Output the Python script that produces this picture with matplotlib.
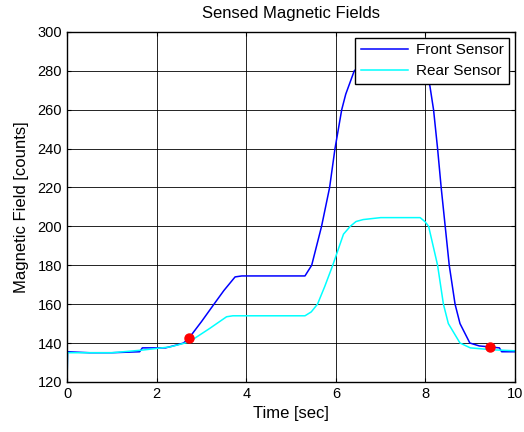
import matplotlib
matplotlib.use('Agg')
from matplotlib import pyplot as plt

plt.rcParams['font.family'] = ['Liberation Sans', 'DejaVu Sans']

# front sensor trace (time in sec, field in counts)
front_t = [0, 0.01, 0.5, 1.0, 1.62, 1.68, 2.2, 2.45, 2.6, 2.72, 3.0, 3.28, 3.5, 3.75,
           3.9, 5.31, 5.46, 5.68, 5.86, 5.98, 6.13, 6.22, 6.41, 6.6, 6.8, 7.0, 7.8, 8.0,
           8.1, 8.18, 8.27, 8.35, 8.44, 8.53, 8.66, 8.77, 8.99, 9.2, 9.65, 9.7, 10]
front_v = [120, 135.5, 135, 135, 135.5, 137.5, 137.5, 139, 140, 142.5, 151, 160, 167, 174,
           174.5, 174.5, 180, 200, 220, 240, 260, 268, 280, 284, 286, 287, 287, 283,
           272, 260, 240, 220, 200, 180, 160, 150, 140, 138.5, 137.5, 135.5, 135.5]

# rear sensor trace
rear_t = [0, 0.01, 1.0, 1.7, 2.3, 2.72, 2.82, 3.19, 3.56, 3.7, 5.31, 5.45, 5.59, 5.75,
          5.93, 6.05, 6.17, 6.32, 6.45, 6.61, 7.0, 7.88, 7.99, 8.07, 8.27, 8.4, 8.51,
          8.77, 9.0, 9.5, 10]
rear_v = [120, 135, 135, 136.4, 138, 140.5, 142, 147.6, 153.5, 154, 154, 156, 160, 169,
          180, 188, 196, 200, 202.5, 203.5, 204.5, 204.5, 202.4, 200, 180, 160, 150,
          140, 137.5, 136.5, 136]

# detection markers
mark_t = [2.72, 9.44]
mark_v = [142.5, 138]

fig = plt.figure(figsize=(5.24, 4.32), dpi=100)
ax = fig.add_axes([0.128, 0.116, 0.855, 0.810])

ax.plot(front_t, front_v, color='#0000ff', lw=1.1, label='Front Sensor')
ax.plot(rear_t, rear_v, color='#00ffff', lw=1.1, label='Rear Sensor')
ax.plot(mark_t, mark_v, 'o', color='#ff0000', ms=6.5, zorder=5)

ax.set_xlim(0, 10)
ax.set_ylim(120, 300)
ax.set_xticks(range(0, 11, 2))
ax.set_yticks(range(120, 301, 20))
ax.grid(True, color='black', lw=0.6)
ax.tick_params(direction='in', top=True, right=True, labelsize=10.5, length=3)
for s in ax.spines.values():
  s.set_linewidth(1.0)

ax.set_xlabel('Time [sec]', fontsize=12, labelpad=4)
ax.set_ylabel('Magnetic Field [counts]', fontsize=12, labelpad=6)
ax.set_title('Sensed Magnetic Fields', fontsize=12, pad=10)

leg = ax.legend(loc='upper right', fontsize=11, fancybox=False, framealpha=1,
                edgecolor='black', borderaxespad=0.4, handlelength=3.1,
                borderpad=0.35, labelspacing=0.45, handletextpad=0.5)
leg.get_frame().set_linewidth(1.0)

fig.savefig('out.png', dpi=100)
